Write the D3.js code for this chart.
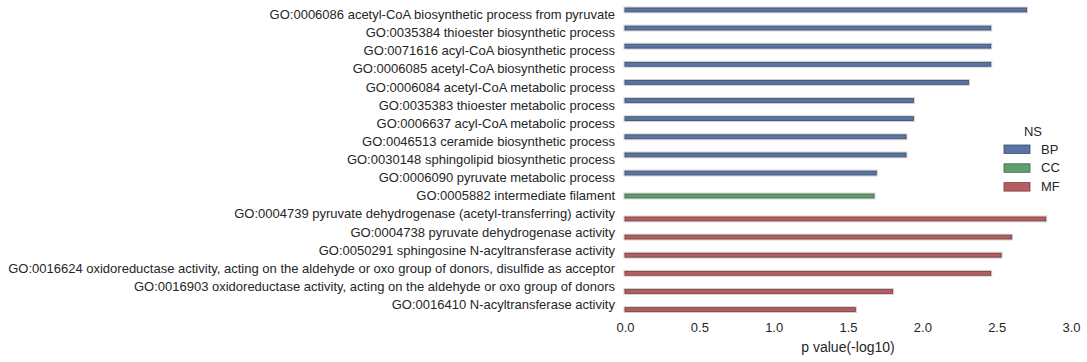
<!DOCTYPE html>
<html><head><meta charset="utf-8">
<script src="https://cdn.jsdelivr.net/npm/d3@7"></script>
<style>body{margin:0;background:#fff}svg{display:block}text{font-family:"Liberation Sans",Arial,sans-serif;fill:#262626}</style>
</head><body>
<svg id="c" width="1087" height="362"></svg>
<script>
const terms = [
"GO:0006086 acetyl-CoA biosynthetic process from pyruvate",
"GO:0035384 thioester biosynthetic process",
"GO:0071616 acyl-CoA biosynthetic process",
"GO:0006085 acetyl-CoA biosynthetic process",
"GO:0006084 acetyl-CoA metabolic process",
"GO:0035383 thioester metabolic process",
"GO:0006637 acyl-CoA metabolic process",
"GO:0046513 ceramide biosynthetic process",
"GO:0030148 sphingolipid biosynthetic process",
"GO:0006090 pyruvate metabolic process",
"GO:0005882 intermediate filament",
"GO:0004739 pyruvate dehydrogenase (acetyl-transferring) activity",
"GO:0004738 pyruvate dehydrogenase activity",
"GO:0050291 sphingosine N-acyltransferase activity",
"GO:0016624 oxidoreductase activity, acting on the aldehyde or oxo group of donors, disulfide as acceptor",
"GO:0016903 oxidoreductase activity, acting on the aldehyde or oxo group of donors",
"GO:0016410 N-acyltransferase activity"
];
const ns = ["BP","BP","BP","BP","BP","BP","BP","BP","BP","BP","CC","MF","MF","MF","MF","MF","MF"];
const pvals = [2.70,2.46,2.46,2.46,2.31,1.94,1.94,1.89,1.89,1.69,1.675,2.83,2.60,2.53,2.46,1.80,1.55];
const nsLevels = ["BP","CC","MF"];
const nsColors = ["#5975a4","#5f9e6e","#b55d60"];
const nsEdges = ["#3b4d6c","#3f6949","#773d40"];
const xTicks = [0,0.5,1.0,1.5,2.0,2.5,3.0];

const svg = d3.select("#c");
const x = d3.scaleLinear().domain([0,3]).range([625,1071]);
const y = d3.scaleLinear().domain([-0.5,16.5]).range([5.5,313.6]);
const col = d3.scaleOrdinal().domain(nsLevels).range(nsColors);
const edge = d3.scaleOrdinal().domain(nsLevels).range(nsEdges);
const bw = 0.8/3;
const off = d3.scaleOrdinal().domain(nsLevels).range([-bw,0,bw]);

const data = terms.map((t,i)=>({t, ns:ns[i], v:pvals[i], i}));

// bars
const g = svg.append("g");
g.selectAll("rect.sh").data(data).enter().append("rect")
 .attr("x", x(0)-0.5)
 .attr("y", d=>y(d.i+off(d.ns)-bw/2)+0.2)
 .attr("width", d=>x(d.v)-x(0)+1)
 .attr("height", d=>y(d.i+bw/2)-y(d.i-bw/2))
 .attr("fill","none").attr("stroke","#d0d0d0").attr("stroke-width",2);
g.selectAll("rect.b").data(data).enter().append("rect")
 .attr("x", x(0))
 .attr("y", d=>y(d.i+off(d.ns)-bw/2)+0.7)
 .attr("width", d=>x(d.v)-x(0))
 .attr("height", d=>y(d.i+bw/2)-y(d.i-bw/2)-1)
 .attr("fill", d=>col(d.ns))
 .attr("stroke", d=>edge(d.ns)).attr("stroke-width",0.8);

// y labels
svg.append("g").selectAll("text").data(data).enter().append("text")
 .attr("x",615).attr("y",d=>y(d.i)).attr("dy","0.35em")
 .attr("text-anchor","end").attr("font-size","13px").text(d=>d.t);

// x axis
const xa = svg.append("g").attr("transform","translate(0,313)")
 .call(d3.axisBottom(x).tickValues(xTicks).tickFormat(d3.format(".1f")).tickSize(0).tickPadding(10));
xa.select(".domain").remove();
xa.selectAll("text").attr("font-size","13px").attr("font-family","Liberation Sans, Arial, sans-serif").attr("fill","#262626");
svg.append("text").attr("x",(x(0)+x(3))/2).attr("y",352).attr("text-anchor","middle").attr("font-size","14px").text("p value(-log10)");

// legend
const lg = svg.append("g");
lg.append("text").attr("x",1033).attr("y",136).attr("text-anchor","middle").attr("font-size","13px").text("NS");
nsLevels.forEach((n,k)=>{
  const yy = 149 + k*18.8;
  lg.append("rect").attr("x",1004).attr("y",yy-4).attr("width",26).attr("height",8.5)
    .attr("fill",nsColors[k]).attr("stroke",nsEdges[k]).attr("stroke-width",0.8);
  lg.append("text").attr("x",1041).attr("y",yy).attr("dy","0.35em").attr("font-size","13px").text(n);
});
</script>
</body></html>
